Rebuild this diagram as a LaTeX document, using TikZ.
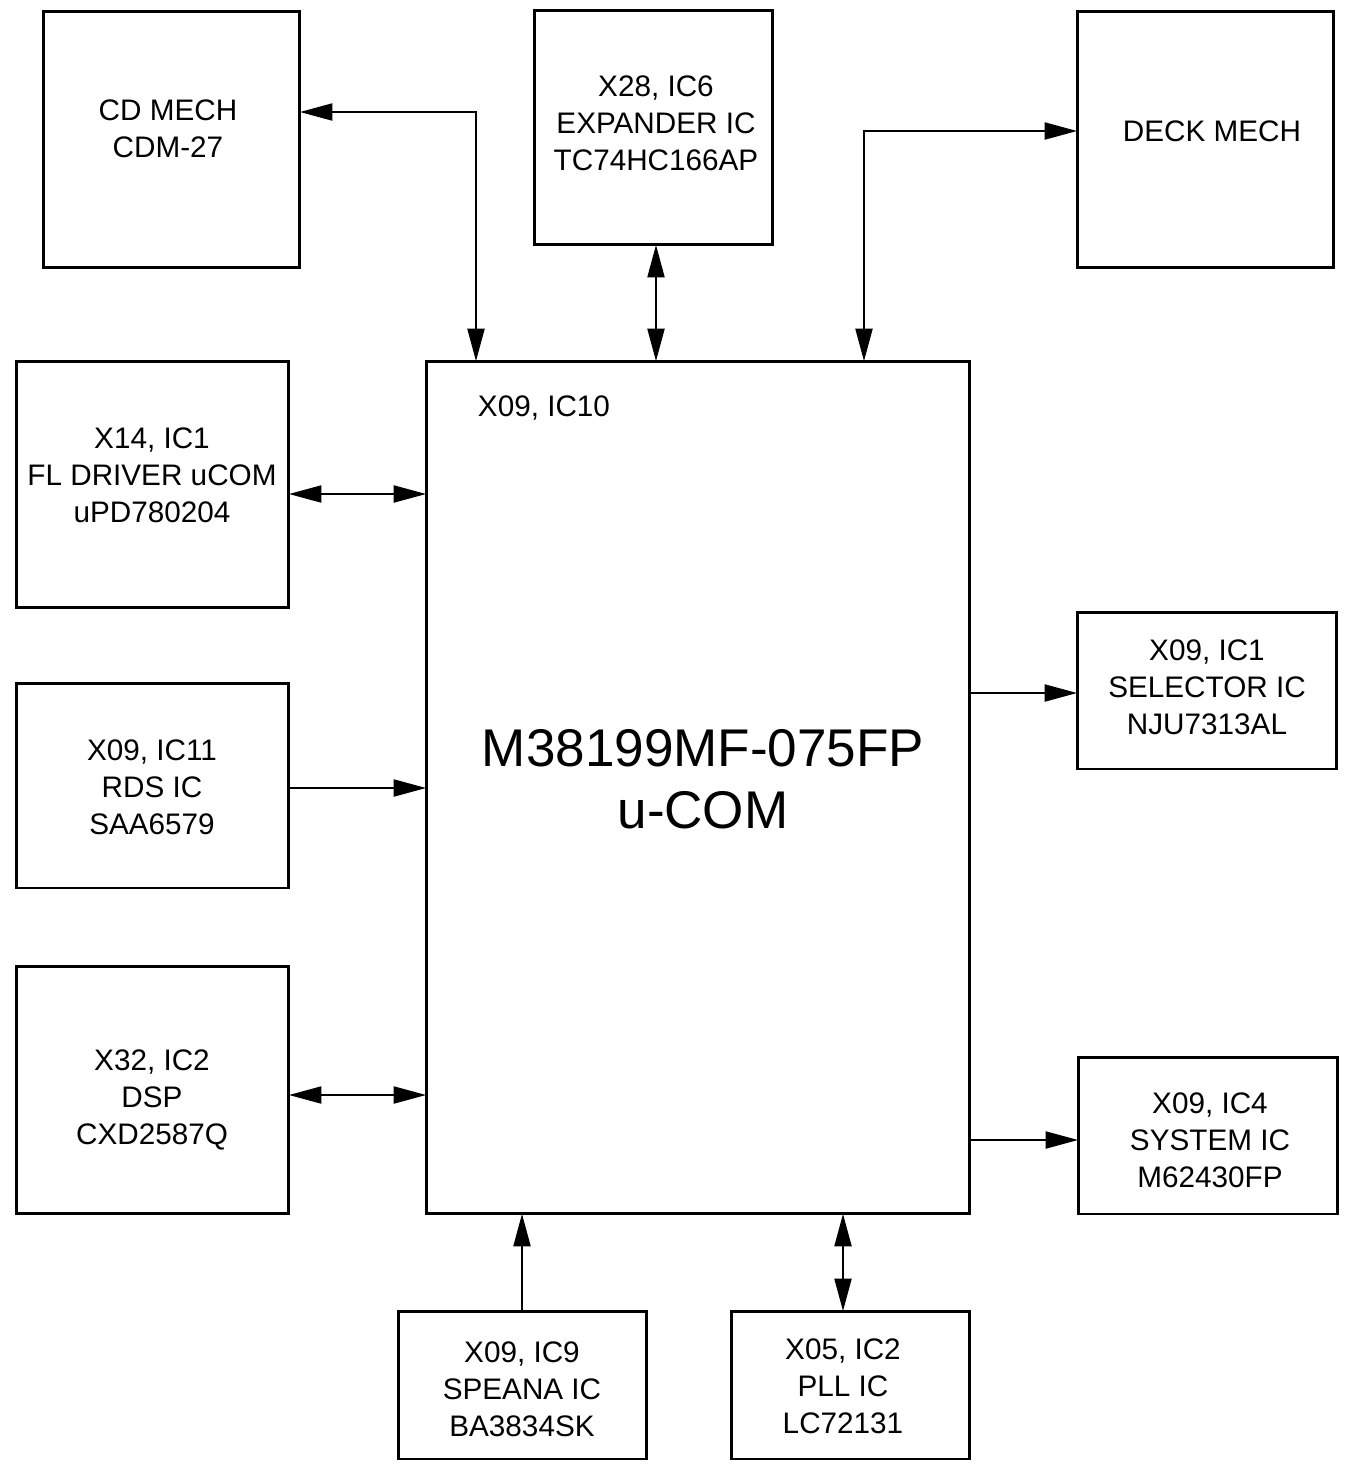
\documentclass[tikz,border=0pt]{standalone}
\usepackage{fontspec}
\setmainfont{Liberation Sans}
\usetikzlibrary{arrows.meta}
\begin{document}
\begin{tikzpicture}[x=0.02cm,y=-0.02cm,
  blk/.style={draw,line width=1.7pt,inner sep=0pt,outer sep=0pt},
  txt/.style={inner sep=0pt,align=center,font=\fontsize{16.9}{21}\selectfont},
  bigtxt/.style={inner sep=0pt,align=center,font=\fontsize{30.2}{35.3}\selectfont},
  conn/.style={line width=0.85pt},
  tip/.tip={Triangle[length=18.5pt,width=9.8pt]},
  one/.style={conn,-tip},
  two/.style={conn,tip-tip}]
\useasboundingbox (0,0) rectangle (1351,1465);
% boxes
\node[blk,minimum width=5.14cm,minimum height=5.14cm] (cd) at (171.5,139.5) {};
\node[blk,minimum width=4.78cm,minimum height=4.70cm] (exp) at (653.5,127.5) {};
\node[blk,minimum width=5.14cm,minimum height=5.14cm] (deck) at (1205.5,139.5) {};
\node[blk,minimum width=5.46cm,minimum height=4.94cm] (fl) at (152.5,484.5) {};
\node[blk,minimum width=10.88cm,minimum height=17.06cm] (main) at (698,787.5) {};
\node[blk,minimum width=5.46cm,minimum height=4.10cm] (rds) at (152.5,785.5) {};
\node[blk,minimum width=5.46cm,minimum height=4.96cm] (dsp) at (152.5,1090) {};
\node[blk,minimum width=5.20cm,minimum height=3.14cm] (sel) at (1207,690.5) {};
\node[blk,minimum width=5.20cm,minimum height=3.14cm] (sys) at (1208,1135.5) {};
\node[blk,minimum width=4.98cm,minimum height=2.96cm] (spe) at (522.5,1385) {};
\node[blk,minimum width=4.78cm,minimum height=2.96cm] (pll) at (850.5,1385) {};
% texts
\node[txt] (cdt) at (168,129) {CD MECH\\CDM-27};
\node[txt] (expt) at (656,123) {X28, IC6\\EXPANDER IC\\TC74HC166AP};
\node[txt] (deckt) at (1212,131) {DECK MECH};
\node[txt] (flt) at (152,475) {X14, IC1\\FL DRIVER uCOM\\uPD780204};
\node[txt] (rdst) at (152,787) {X09, IC11\\RDS IC\\SAA6579};
\node[txt] (dspt) at (152,1100) {X32, IC2\\DSP\\CXD2587Q};
\node[txt] (selt) at (1207,687) {X09, IC1\\SELECTOR IC\\NJU7313AL};
\node[txt] (syst) at (1210,1140) {X09, IC4\\SYSTEM IC\\M62430FP};
\node[txt] (spet) at (522,1389) {X09, IC9\\SPEANA IC\\BA3834SK};
\node[txt] (pllt) at (843,1386) {X05, IC2\\PLL IC\\LC72131};
\node[txt] (maint) at (544,408) {X09, IC10};
\node[bigtxt] (mainbig) at (703,779) {M38199MF-075FP\\u-COM};
% connectors
\coordinate (cdbend) at (476,112);
\coordinate (deckbend) at (864,131);
\coordinate (expx) at (656,0);
\coordinate (spex) at (522,0);
\coordinate (pllx) at (843,0);
\coordinate (fly) at (0,494);
\coordinate (rdsy) at (0,788);
\coordinate (dspy) at (0,1095);
\coordinate (sely) at (0,693);
\coordinate (sysy) at (0,1140);
\draw[two] (cd.east |- cdbend) -- (cdbend) -- (cdbend |- main.north);
\draw[two] (exp.south -| expx) -- (main.north -| expx);
\draw[two] (deck.west |- deckbend) -- (deckbend) -- (deckbend |- main.north);
\draw[two] (fl.east |- fly) -- (main.west |- fly);
\draw[one] (rds.east |- rdsy) -- (main.west |- rdsy);
\draw[two] (dsp.east |- dspy) -- (main.west |- dspy);
\draw[one] (main.east |- sely) -- (sel.west |- sely);
\draw[one] (main.east |- sysy) -- (sys.west |- sysy);
\draw[one] (spe.north -| spex) -- (main.south -| spex);
\draw[two] (pll.north -| pllx) -- (main.south -| pllx);
\end{tikzpicture}
\end{document}
